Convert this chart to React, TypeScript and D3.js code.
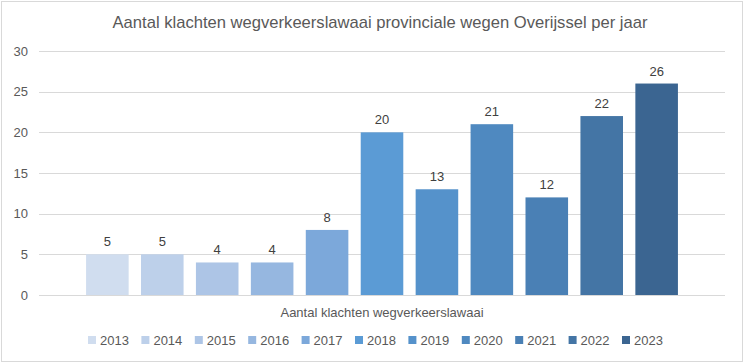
import React from "react";
import * as d3 from "d3";

const years = ["2013", "2014", "2015", "2016", "2017", "2018", "2019", "2020", "2021", "2022", "2023"];
const complaints = [5, 5, 4, 4, 8, 20, 13, 21, 12, 22, 26];
const barColors = [
  "#d0ddef", "#bdd0ea", "#adc5e6", "#96b7e0", "#7ca8da", "#5b9bd5",
  "#5592cb", "#4f89c0", "#4a80b5", "#4475a5", "#3b6591",
];
const yTicks = [0, 5, 10, 15, 20, 25, 30];
const title = "Aantal klachten wegverkeerslawaai provinciale wegen Overijssel per jaar";
const categoryLabel = "Aantal klachten wegverkeerslawaai";

const W = 744;
const H = 363;
const plot = { left: 39, right: 725, top: 51, bottom: 295 };
const font = "'Liberation Sans', Arial, sans-serif";

export default function App() {
  const x = d3
    .scaleBand<string>()
    .domain(years)
    .range([plot.left, plot.right])
    .paddingInner(0.225)
    .paddingOuter(0.857);

  const y = d3.scaleLinear().domain([0, 30]).range([plot.bottom, plot.top]);

  // legend laid out as its own band, centred a bit left of the plot
  const legend = d3
    .scalePoint<string>()
    .domain(years)
    .range([88, 622]);

  return (
    <svg
      width={W}
      height={H}
      style={{ position: "absolute", left: 0, top: 0, background: "#fff" }}
      fontFamily={font}
    >
      <rect x={1.5} y={1.5} width={W - 3} height={H - 3} fill="#fff" stroke="#d9d9d9" />

      <text x={380} y={28} textAnchor="middle" fontSize={16.6} fill="#595959">
        {title}
      </text>

      {/* gridlines + y ticks */}
      {yTicks.map((t) => (
        <g key={t}>
          <line
            x1={plot.left}
            x2={plot.right}
            y1={Math.round(y(t)) + 0.5}
            y2={Math.round(y(t)) + 0.5}
            stroke="#d9d9d9"
          />
          <text x={28} y={y(t) + 4.5} textAnchor="end" fontSize={13} fill="#595959">
            {t}
          </text>
        </g>
      ))}

      {/* bars */}
      {years.map((yr, i) => (
        <g key={yr}>
          <rect
            x={x(yr)}
            y={y(complaints[i])}
            width={x.bandwidth()}
            height={y(0) - y(complaints[i])}
            fill={barColors[i]}
          />
          <text
            x={(x(yr) as number) + x.bandwidth() / 2}
            y={y(complaints[i]) - 8}
            textAnchor="middle"
            fontSize={13}
            fill="#404040"
          >
            {complaints[i]}
          </text>
        </g>
      ))}

      <text x={382} y={317} textAnchor="middle" fontSize={13} fill="#595959">
        {categoryLabel}
      </text>

      {/* legend */}
      {years.map((yr, i) => (
        <g key={"lg" + yr} transform={`translate(${legend(yr)},336)`}>
          <rect x={0} y={0} width={8} height={8} fill={barColors[i]} />
          <text x={12} y={8.5} fontSize={13} fill="#595959">
            {yr}
          </text>
        </g>
      ))}
    </svg>
  );
}
